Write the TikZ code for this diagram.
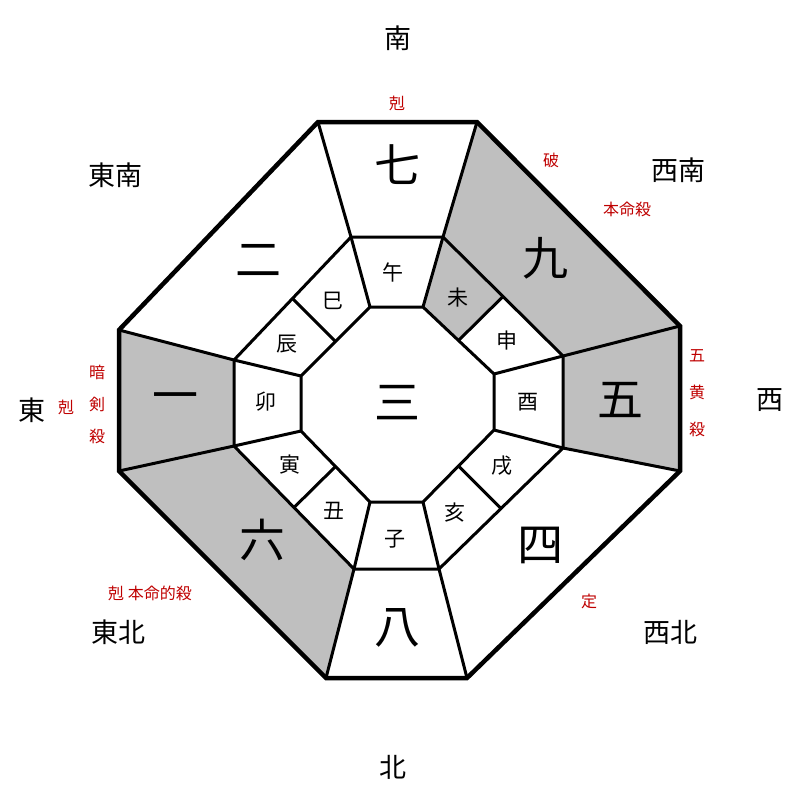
\documentclass[tikz,border=0pt]{standalone}
\usepackage{fontspec}
\usetikzlibrary{calc}
\newfontfamily\cjk{Noto Sans CJK JP}
\begin{document}
\begin{tikzpicture}[x=1pt,y=-1pt,
  ln/.style={line width=3pt,line join=miter},
  big/.style={font=\cjk\fontsize{46}{46}\selectfont},
  zod/.style={font=\cjk\fontsize{21}{21}\selectfont},
  dir/.style={font=\cjk\fontsize{27}{27}\selectfont},
  red/.style={font=\cjk\fontsize{16}{16}\selectfont,text=red!75!black},
  sh/.style={fill=black!25}]
\useasboundingbox (0,0) rectangle (800,800);
\fill[white] (0,0) rectangle (800,800);
% outer
\coordinate (O1) at (318,122); \coordinate (O2) at (477,122);
\coordinate (O3) at (680,326); \coordinate (O4) at (680,471);
\coordinate (O5) at (467,678); \coordinate (O6) at (326,678);
\coordinate (O7) at (119,471); \coordinate (O8) at (119,330);
% middle
\coordinate (M1) at (351,237); \coordinate (M2) at (443,237);
\coordinate (M3) at (563,356); \coordinate (M4) at (563,448);
\coordinate (M5) at (439,569); \coordinate (M6) at (354,569);
\coordinate (M7) at (234,446); \coordinate (M8) at (234,360);
% inner
\coordinate (I1) at (370,307); \coordinate (I2) at (423,307);
\coordinate (I3) at (494,374); \coordinate (I4) at (494,430);
\coordinate (I5) at (423,502); \coordinate (I6) at (370,502);
\coordinate (I7) at (301,431); \coordinate (I8) at (301,376);
% midpoints for zodiac dividers
\coordinate (a2) at ($(I2)!0.5!(I3)$); \coordinate (b2) at ($(M2)!0.5!(M3)$);
\coordinate (a4) at ($(I4)!0.5!(I5)$); \coordinate (b4) at ($(M4)!0.5!(M5)$);
\coordinate (a6) at ($(I6)!0.5!(I7)$); \coordinate (b6) at ($(M6)!0.5!(M7)$);
\coordinate (a8) at ($(I8)!0.5!(I1)$); \coordinate (b8) at ($(M8)!0.5!(M1)$);
% shading
\fill[sh] (O2)--(O3)--(M3)--(M2)--cycle;
\fill[sh] (O3)--(O4)--(M4)--(M3)--cycle;
\fill[sh] (O8)--(O7)--(M7)--(M8)--cycle;
\fill[sh] (O7)--(O6)--(M6)--(M7)--cycle;
\fill[sh] (I2)--(a2)--(b2)--(M2)--cycle;
% lines
\draw[line width=4.5pt,line join=miter] (O1)--(O2)--(O3)--(O4)--(O5)--(O6)--(O7)--(O8)--cycle;
\draw[ln] (M1)--(M2)--(M3)--(M4)--(M5)--(M6)--(M7)--(M8)--cycle;
\draw[ln] (I1)--(I2)--(I3)--(I4)--(I5)--(I6)--(I7)--(I8)--cycle;
\foreach \k in {1,...,8}{\draw[ln] (M\k)--(O\k); \draw[ln] (I\k)--(M\k);}
\foreach \k in {2,4,6,8}{\draw[ln] (a\k)--(b\k);}
% numbers
\node[big] (n7) at (397,165) {七};
\node[big] (n9) at (545,258) {九};
\node[big] (n5) at (620,400) {五};
\node[big] (n4) at (540,545) {四};
\node[big] (n8) at (397,628) {八};
\node[big] (n6) at (262,540) {六};
\node[big] (n1) at (175,403) {一};
\node[big] (n2) at (258,260) {二};
\node[big] (n3) at (397,403) {三};
% zodiac
\node[zod] (z1) at (393,272) {午};
\node[zod] (z2) at (458,298) {未};
\node[zod] (z3) at (507,341) {申};
\node[zod] (z4) at (528,402) {酉};
\node[zod] (z5) at (502,466) {戌};
\node[zod] (z6) at (455,513) {亥};
\node[zod] (z7) at (395,539) {子};
\node[zod] (z8) at (334,511) {丑};
\node[zod] (z9) at (290,465) {寅};
\node[zod] (z10) at (266,402) {卯};
\node[zod] (z11) at (287,344) {辰};
\node[zod] (z12) at (333,301) {巳};
% directions
\node[dir] (dS) at (398,38) {南};
\node[dir] (dSE) at (115,175) {東南};
\node[dir] (dSW) at (678,170) {西南};
\node[dir] (dE) at (32,410) {東};
\node[dir] (dW) at (770,400) {西};
\node[dir] (dNE) at (118,632) {東北};
\node[dir] (dNW) at (670,632) {西北};
\node[dir] (dN) at (393,767) {北};
% red labels
\node[red] (r1) at (397,103) {剋};
\node[red] (r2) at (551,160) {破};
\node[red] (r3) at (627,209) {本命殺};
\node[red,align=center,font=\cjk\fontsize{16}{32}\selectfont] (r4) at (97,404) {暗\\剣\\殺};
\node[red] (r5) at (66,407) {剋};
\node[red,align=center,font=\cjk\fontsize{16}{37}\selectfont] (r6) at (697,393) {五\\黄\\殺};
\node[red] (r7) at (150,593) {剋\ 本命的殺};
\node[red] (r8) at (589,601) {定};
\end{tikzpicture}
\end{document}
